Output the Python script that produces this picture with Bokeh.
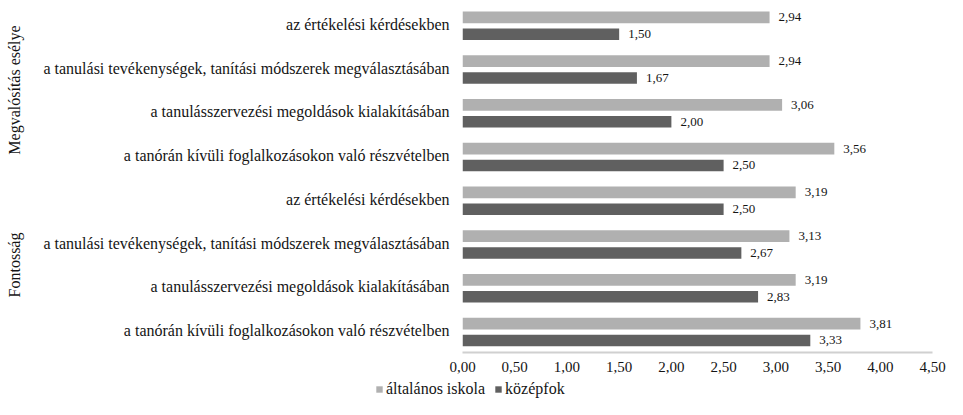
import numpy as np
from bokeh.plotting import figure
from bokeh.layouts import column, row
from bokeh.models import (ColumnDataSource, Range1d, FixedTicker, LinearAxis, Legend, LegendItem)
from bokeh.core.properties import value
from bokeh.embed import file_html
from bokeh.resources import INLINE

# ---- data (top to bottom as in the chart) ----
groups = ["Megvalósítás esélye", "Fontosság"]
categories = [
    "az értékelési kérdésekben",
    "a tanulási tevékenységek, tanítási módszerek megválasztásában",
    "a tanulásszervezési megoldások kialakításában",
    "a tanórán kívüli foglalkozásokon való részvételben",
    "az értékelési kérdésekben",
    "a tanulási tevékenységek, tanítási módszerek megválasztásában",
    "a tanulásszervezési megoldások kialakításában",
    "a tanórán kívüli foglalkozásokon való részvételben",
]
category_group = [0, 0, 0, 0, 1, 1, 1, 1]
series_names = ["általános iskola", "középfok"]
altalanos = [2.94, 2.94, 3.06, 3.56, 3.19, 3.13, 3.19, 3.81]
kozepfok = [1.50, 1.67, 2.00, 2.50, 2.50, 2.67, 2.83, 3.33]
x_ticks = [0.0, 0.5, 1.0, 1.5, 2.0, 2.5, 3.0, 3.5, 4.0, 4.5]
x_tick_labels = ["0,00", "0,50", "1,00", "1,50", "2,00", "2,50", "3,00", "3,50", "4,00", "4,50"]

FONT = "Liberation Serif"
LIGHT = "#b0b0b0"
DARK = "#606060"
TXT = "#141414"

n = len(categories)
slot = np.arange(n)[::-1].astype(float)  # bottom slot = 0
fmt = lambda v: f"{v:.2f}".replace(".", ",")

src_a = ColumnDataSource(dict(y=slot + 0.66, v=altalanos, lab=[fmt(v) for v in altalanos]))
src_k = ColumnDataSource(dict(y=slot + 0.275, v=kozepfok, lab=[fmt(v) for v in kozepfok]))

W = 947
p = figure(width=W, height=380, output_backend="svg", toolbar_location=None,
           x_range=Range1d(0, 4.5), y_range=Range1d(0, n))
p.min_border_left = 462
p.min_border_right = 15
p.min_border_top = 2
p.min_border_bottom = 28
p.outline_line_color = None
p.xgrid.visible = False
p.ygrid.visible = False
p.background_fill_color = "white"
p.border_fill_color = "white"

p.hbar(y="y", left=0, right="v", height=0.27, source=src_a, fill_color=LIGHT, line_color=None)
p.hbar(y="y", left=0, right="v", height=0.265, source=src_k, fill_color=DARK, line_color=None)

for src in (src_a, src_k):
    p.text(x="v", y="y", text="lab", source=src, x_offset=9, text_baseline="middle",
           text_align="left", text_font=value(FONT), text_font_size="13px", text_color=TXT)

# x axis
p.xaxis.ticker = FixedTicker(ticks=x_ticks)
p.xaxis.major_label_overrides = {t: l for t, l in zip(x_ticks, x_tick_labels)}
p.xaxis.axis_line_color = "#d0d0d0"
p.xaxis.axis_line_width = 2
p.xaxis.major_tick_line_color = None
p.xaxis.minor_tick_line_color = None
p.xaxis.major_tick_out = 0
p.xaxis.major_tick_in = 0
p.xaxis.major_label_standoff = 9
p.xaxis.major_label_text_font = FONT
p.xaxis.major_label_text_font_size = "15px"
p.xaxis.major_label_text_color = TXT

# y axis (category labels)
y_ticks = [float(s + 0.5) for s in slot]
p.yaxis.ticker = FixedTicker(ticks=y_ticks)
p.yaxis.major_label_overrides = {t: c for t, c in zip(y_ticks, categories)}
p.yaxis.axis_line_color = None
p.yaxis.major_tick_line_color = None
p.yaxis.minor_tick_line_color = None
p.yaxis.major_tick_out = 0
p.yaxis.major_tick_in = 0
p.yaxis.major_label_standoff = 13
p.yaxis.major_label_text_font = FONT
p.yaxis.major_label_text_font_size = "16px"
p.yaxis.major_label_text_color = TXT

# group labels as an outer axis
g_ticks = []
for gi in range(len(groups)):
    ys = [slot[i] + 0.5 for i in range(n) if category_group[i] == gi]
    g_ticks.append(float(np.mean(ys)))
gax = LinearAxis(ticker=FixedTicker(ticks=g_ticks),
                 major_label_overrides={t: g for t, g in zip(g_ticks, groups)})
gax.major_label_orientation = "vertical"
gax.axis_line_color = None
gax.major_tick_line_color = None
gax.minor_tick_line_color = None
gax.major_tick_out = 0
gax.major_tick_in = 0
gax.major_label_standoff = 18
gax.major_label_text_font = FONT
gax.major_label_text_font_size = "16px"
gax.major_label_text_color = TXT
p.add_layout(gax, "left")

# legend strip below the chart (proxy bars lie outside its visible range)
lf = figure(width=W, height=19, output_backend="svg", toolbar_location=None,
            x_range=Range1d(0, W), y_range=Range1d(0, 19), x_axis_type=None, y_axis_type=None)
lf.min_border = 0
lf.min_border_left = 0
lf.min_border_right = 0
lf.min_border_top = 0
lf.min_border_bottom = 0
lf.outline_line_color = None
lf.xgrid.visible = False
lf.ygrid.visible = False
la = lf.hbar(y=[-100], left=[0], right=[altalanos[0]], height=1,
             fill_color=LIGHT, line_color=None)
lk = lf.hbar(y=[-100], left=[0], right=[kozepfok[0]], height=1,
             fill_color=DARK, line_color=None)
legend = Legend(items=[LegendItem(label=series_names[0], renderers=[la]),
                       LegendItem(label=series_names[1], renderers=[lk])],
                orientation="horizontal", location=(375, 1))
legend.border_line_color = None
legend.background_fill_alpha = 0
legend.padding = 0
legend.margin = 0
legend.spacing = 9
legend.glyph_width = 8
legend.glyph_height = 8
legend.label_standoff = 3
legend.label_height = 16
legend.label_text_font = FONT
legend.label_text_font_size = "16px"
legend.label_text_color = TXT
lf.add_layout(legend, "center")

layout = column(p, row(lf, spacing=0), spacing=0)
open("out.html", "w").write(file_html(layout, INLINE))
